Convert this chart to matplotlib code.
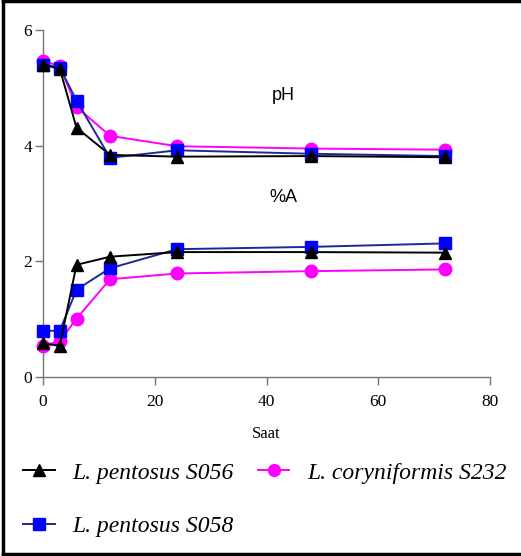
import numpy as np
import matplotlib
matplotlib.use("Agg")
import matplotlib.pyplot as plt
from matplotlib.lines import Line2D

saat = [0, 3, 6, 12, 24, 48, 72]

# pH values
ph_s056 = [5.40, 5.33, 4.31, 3.84, 3.81, 3.82, 3.80]
ph_s058 = [5.40, 5.35, 4.78, 3.79, 3.92, 3.86, 3.82]
ph_s232 = [5.46, 5.38, 4.67, 4.17, 3.99, 3.95, 3.93]

# %A values
a_s056 = [0.58, 0.54, 1.94, 2.08, 2.16, 2.16, 2.15]
a_s058 = [0.80, 0.80, 1.51, 1.88, 2.21, 2.25, 2.31]
a_s232 = [0.54, 0.62, 1.01, 1.69, 1.79, 1.83, 1.86]

labels = ["L. pentosus S056", "L. pentosus S058", "L. coryniformis S232"]

serif = "Liberation Serif"
sans = "Liberation Sans"

fig = plt.figure(figsize=(5.21, 5.56), dpi=100)
ax = fig.add_axes([43 / 521, 1 - 377 / 556, 447 / 521, 347 / 556])

mag = "#ff00ff"
blue_fill = "#0000ff"
blue_line = "#1c2a96"

for ys in (ph_s232, a_s232):
    ax.plot(saat, ys, color=mag, lw=1.4, marker="o", ms=9,
            mfc=mag, mec=mag, clip_on=False, zorder=3)
for ys in (ph_s058, a_s058):
    ax.plot(saat, ys, color=blue_line, lw=1.4, marker="s", ms=9,
            mfc=blue_fill, mec=blue_fill, clip_on=False, zorder=4)
for ys in (ph_s056, a_s056):
    ax.plot(saat, ys, color="black", lw=1.4, marker="^", ms=8.5,
            mfc="black", mec="black", clip_on=False, zorder=5)

ax.set_xlim(0, 80)
ax.set_ylim(0, 6)
ax.set_xticks([0, 20, 40, 60, 80])
ax.set_yticks([0, 2, 4, 6])
for s in ("top", "right"):
    ax.spines[s].set_visible(False)
for s in ("left", "bottom"):
    ax.spines[s].set_color("#777777")
    ax.spines[s].set_linewidth(1.0)
ax.tick_params(direction="out", length=6, width=1.0, color="#777777",
               labelsize=12.5)
ax.tick_params(axis="x", pad=6)
ax.tick_params(axis="y", pad=2)
for lab in ax.get_xticklabels() + ax.get_yticklabels():
    lab.set_fontfamily(serif)
ax.set_xlabel("Saat", fontfamily=serif, fontsize=12, labelpad=12)

fig.text(283 / 521, 1 - 95 / 556, "pH", fontfamily=sans, fontsize=13,
         ha="center", va="center")
fig.text(283 / 521, 1 - 197 / 556, "%A", fontfamily=sans, fontsize=13,
         ha="center", va="center")

handles = [
    Line2D([], [], color="black", lw=1.4, marker="^", ms=8),
    Line2D([], [], color=blue_line, lw=1.4, marker="s", ms=8.5,
           mfc=blue_fill, mec=blue_fill),
    Line2D([], [], color=mag, lw=1.4, marker="o", ms=8.5),
]
fig.legend(handles, labels, loc="upper left",
           bbox_to_anchor=(23 / 521, 1 - 462 / 556),
           ncol=2, frameon=False, borderpad=0, borderaxespad=0,
           handlelength=1.35, handletextpad=0.75,
           columnspacing=1.0, labelspacing=1.35,
           prop={"family": serif, "style": "italic", "size": 17})

# outer frame (left, top, bottom visible)
for xs, ys in (([3 / 521, 3 / 521], [1 / 556, 1 - 1 / 556]),
               ([3 / 521, 1.0], [1 - 1 / 556, 1 - 1 / 556]),
               ([3 / 521, 1.0], [2 / 556, 2 / 556])):
    fig.add_artist(Line2D(xs, ys, color="black", lw=2.5,
                          transform=fig.transFigure))

fig.savefig("out.png", dpi=100)
